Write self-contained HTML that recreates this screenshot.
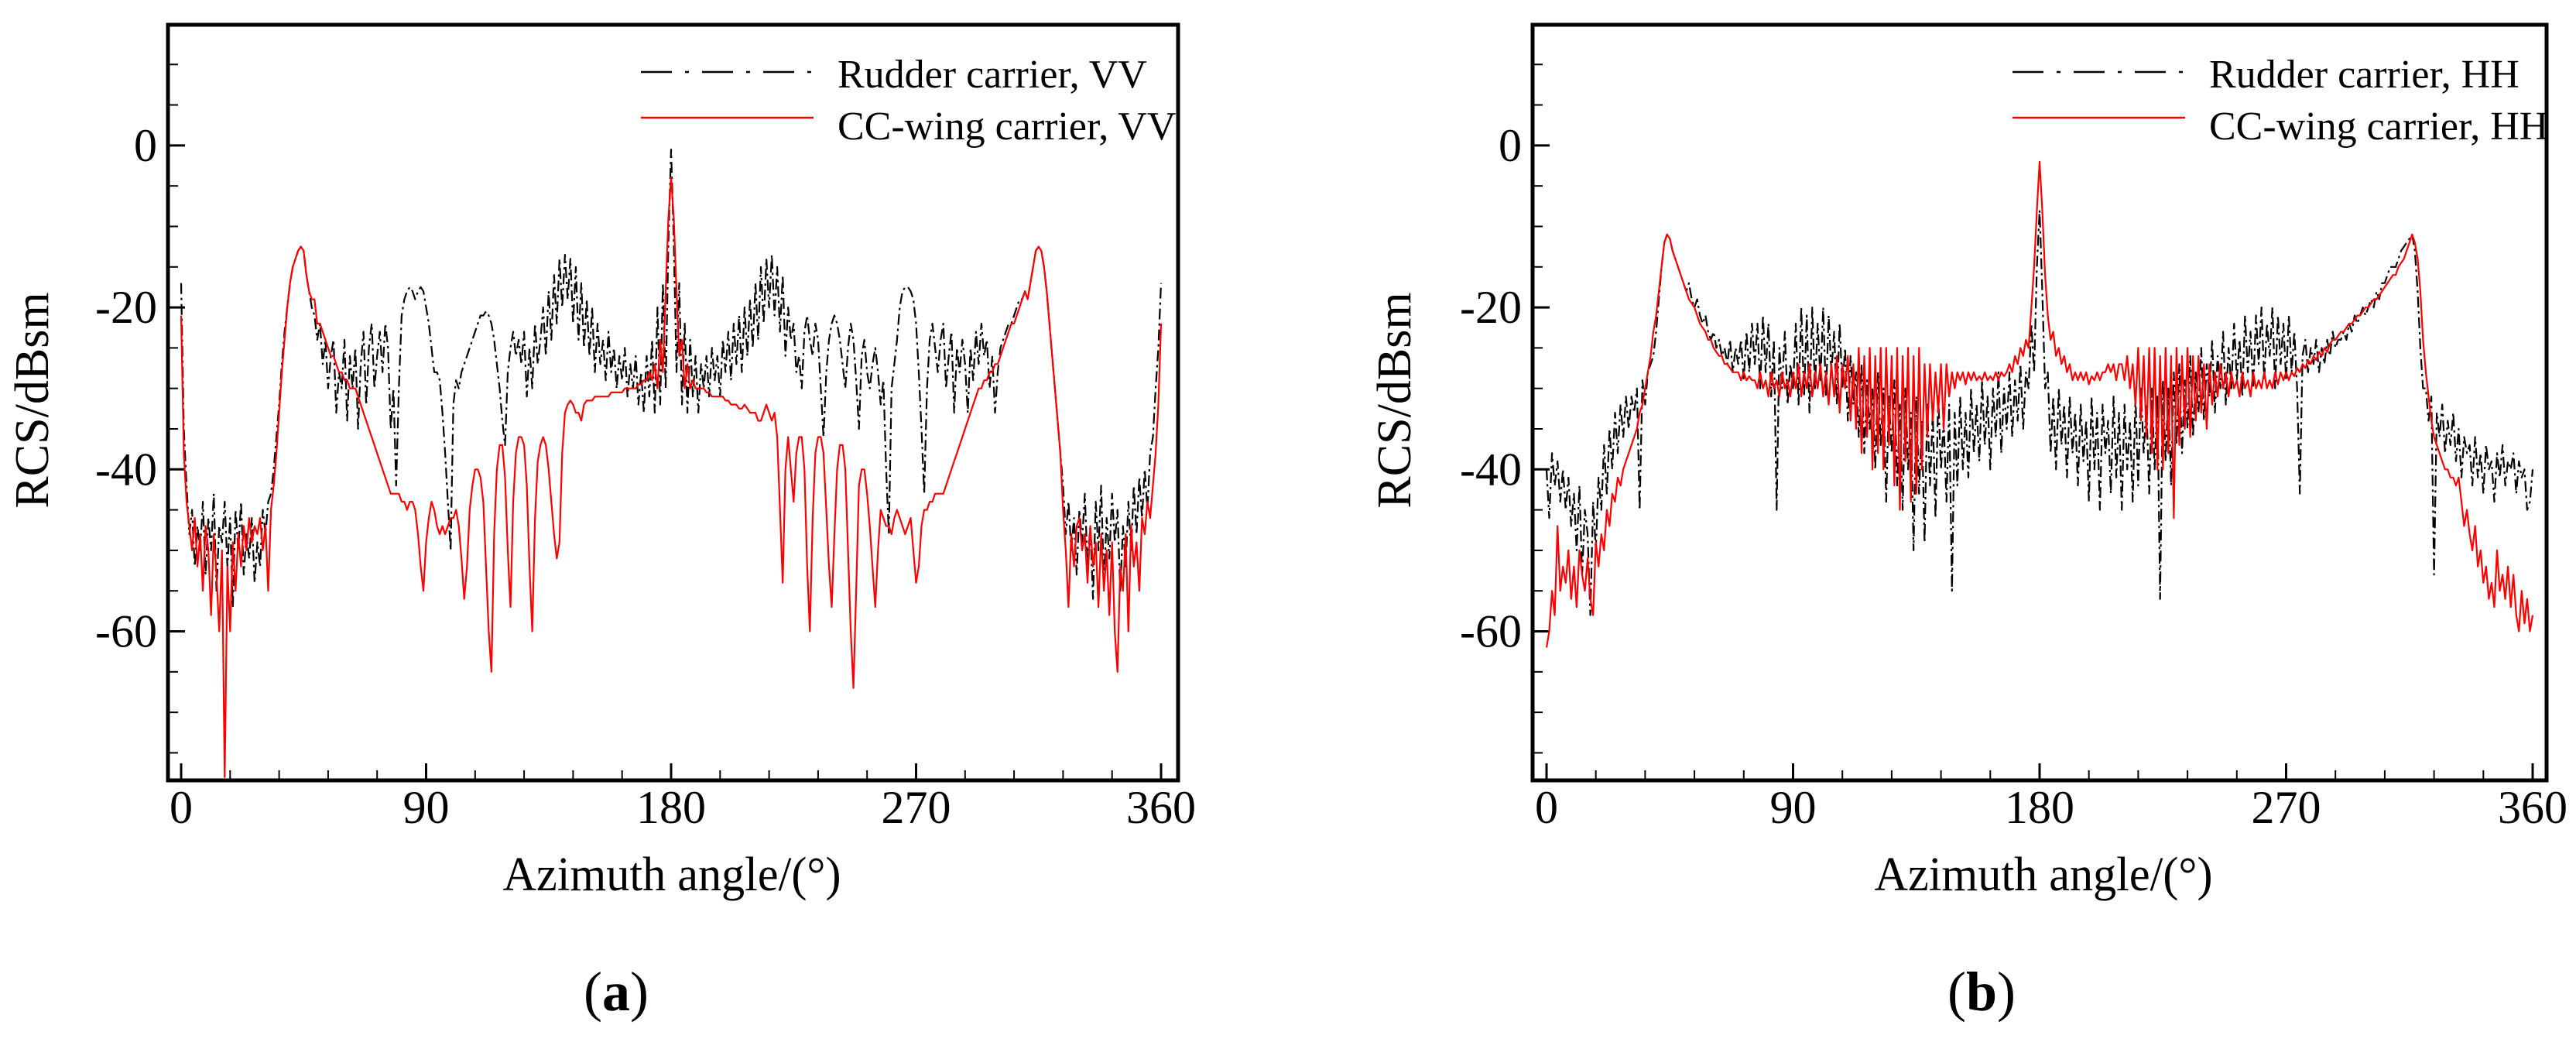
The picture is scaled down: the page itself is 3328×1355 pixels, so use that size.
<!DOCTYPE html>
<html><head><meta charset="utf-8"><style>
html,body{margin:0;padding:0;background:#fff;}
svg{display:block;}
svg text{font-family:"Liberation Serif","Times New Roman",Times,serif;fill:#000;}
</style></head><body>
<svg id="fig" width="3328" height="1355" viewBox="0 0 3328 1355" xmlns="http://www.w3.org/2000/svg" font-family="'Liberation Serif', 'Times New Roman', serif">
</svg>
<script>
const angles = Array.from({length:361},(_,i)=>i);
const xTicks = [0,90,180,270,360];
const yTicks = [0,-20,-40,-60];
const legendA = ["Rudder carrier, VV","CC-wing carrier, VV"];
const legendB = ["Rudder carrier, HH","CC-wing carrier, HH"];

const redA = [-21,-38,-44,-47,-50,-46,-52,-48,-55,-47,
-50,-58,-48,-53,-60,-50,-78,-52,-60,-49,
-55,-48,-52,-47,-50,-46,-49,-47,-48,-46,
-50,-47,-55,-45,-42,-38,-33,-28,-24,-20,
-17,-15,-14,-13,-12.5,-13,-16,-18,-19,-19,
-22,-22,-23,-24,-25,-26,-26,-27,-28,-28,
-29,-29,-30,-30,-30,-31,-32,-33,-34,-35,
-36,-37,-38,-39,-40,-41,-42,-43,-43,-43,
-43,-44,-44,-45,-44,-44,-45,-48,-52,-55,
-49,-46,-44,-45,-47,-48,-47,-48,-47,-46,
-46,-45,-47,-51,-56,-52,-45,-42,-40,-40,
-41,-44,-52,-60,-65,-48,-40,-37,-37,-41,
-50,-57,-44,-38,-36,-36,-37,-42,-52,-60,
-46,-39,-37,-36,-37,-40,-44,-48,-51,-49,
-38,-33,-32,-31.5,-32,-33,-33,-34,-32,-31.5,
-31.5,-31.5,-31,-31,-31,-31,-31,-31,-30.5,-30.5,
-30.5,-30.5,-30.5,-30,-30,-30,-30,-30,-29.5,-29.5,
-29,-29,-28,-29,-27,-30,-24,-28,-18,-9,
-4,
-9,-18,-26,-24,-30,-27,-30,-29,-30,
-30,-30,-30,-30.5,-30.5,-31,-31,-31,-31,-31,
-31.5,-31.5,-32,-32,-32,-32.5,-32.5,-32,-32.5,-33,
-33,-33,-34,-34,-33,-32,-33,-34,-33,-36,
-45,-54,-40,-36,-40,-44,-38,-36,-36,-40,
-52,-60,-46,-38,-36,-36,-38,-45,-52,-57,
-48,-40,-37,-37,-40,-50,-60,-67,-55,-42,
-40,-40,-43,-47,-52,-57,-50,-45,-46,-47,
-47,-48,-46,-45,-46,-47,-48,-47,-46,-50,
-54,-52,-47,-45,-45,-44,-44,-43,-43,-43,
-43,-42,-41,-40,-39,-38,-37,-36,-35,-34,
-33,-32,-31,-30,-30,-29,-29,-28,-28,-27,
-27,-26,-25,-24,-23,-22,-22,-21,-20,-19,
-18,-19,-17,-15,-13,-12.5,-13,-15,-18,-22,
-26,-30,-34,-38,-45,-50,-57,-48,-52,-47,
-46,-50,-48,-54,-47,-52,-49,-57,-48,-55,
-50,-58,-49,-60,-65,-52,-55,-48,-60,-47,
-52,-49,-55,-46,-48,-44,-46,-42,-38,-32,
-22];

const blackA = [-17,-35,-42,-48,-45,-52,-47,-50,-44,-53,
-46,-50,-43,-55,-47,-49,-44,-52,-46,-57,
-45,-50,-44,-53,-48,-51,-46,-54,-49,-52,
-45,-48,-44,-43,-40,-36,-32,-27,-23,-20,
-17,-15,-14,-13,-12.5,-13,-16,-18,-20,-21,
-24,-22,-27,-24,-30,-26,-24,-33,-28,-30,
-24,-34,-26,-30,-25,-35,-27,-23,-32,-25,
-22,-30,-26,-23,-28,-22,-25,-35,-30,-42,
-30,-21,-19,-18,-17.5,-18,-19,-18,-17.5,-18,
-20,-22,-25,-28,-28,-29,-33,-38,-44,-50,
-32,-29,-30,-28,-27,-26,-25,-24,-23,-22,
-21,-21,-20.5,-21,-22,-24,-27,-30,-34,-37,
-28,-25,-23,-26,-24,-27,-23,-31,-25,-30,
-22,-27,-24,-20,-26,-18,-24,-16,-22,-14,
-20,-13.5,-19,-14,-22,-15,-24,-17,-25,-19,
-26,-20,-28,-22,-27,-24,-29,-23,-28,-25,
-30,-26,-29,-25,-31,-27,-30,-26,-32,-28,
-33,-26,-31,-24,-33,-20,-32,-17,-30,-12,
-0.5,
-12,-28,-17,-32,-22,-33,-24,-31,-26,
-33,-27,-30,-26,-31,-25,-29,-26,-31,-24,
-28,-23,-29,-22,-27,-21,-28,-20,-26,-19,
-25,-17,-24,-15,-22,-14,-20,-13.5,-21,-15,
-23,-16,-26,-20,-24,-22,-28,-26,-30,-23,
-21,-24,-26,-22,-24,-30,-36,-28,-24,-22,
-21,-22,-24,-27,-30,-25,-22,-24,-29,-35,
-26,-24,-28,-30,-27,-25,-28,-32,-29,-40,
-48,-30,-27,-24,-20,-18,-17.5,-17.5,-18,-19,
-22,-28,-35,-43,-30,-24,-22,-25,-28,-24,
-22,-30,-26,-23,-33,-25,-28,-24,-27,-33,
-25,-29,-23,-27,-22,-26,-24,-30,-26,-33,
-28,-25,-24,-23,-22,-22,-21,-20,-19,-19,
-18,-19,-17,-15,-13,-12.5,-13,-15,-18,-22,
-26,-30,-34,-38,-42,-48,-44,-50,-46,-53,
-45,-49,-43,-52,-47,-56,-44,-50,-42,-54,
-46,-51,-43,-49,-45,-55,-47,-52,-44,-50,
-42,-48,-41,-46,-40,-45,-38,-36,-30,-25,
-17];

const redB = [-62,-60,-55,-58,-47,-55,-52,-54,-50,-56,
-52,-57,-50,-53,-55,-51,-56,-58,-49,-52,
-48,-50,-45,-47,-43,-44,-41,-42,-40,-39,
-38,-37,-36,-35,-33,-32,-30,-28,-26,-23,
-21,-18,-15,-12,-11,-11.5,-13,-14,-15,-16,
-17,-18,-19,-19.5,-20,-21,-22,-22.5,-23,-24,
-24,-25,-25.5,-26,-26,-27,-27,-27.5,-28,-28,
-28,-29,-28,-29,-28.5,-29,-29,-30,-28,-30,
-29,-31,-28,-30,-29,-31,-28,-30,-29,-31,
-28,-30,-27,-31,-28,-30,-27,-31,-28,-30,
-27,-31,-28,-32,-27,-31,-26,-33,-27,-30,
-26,-34,-27,-35,-25,-38,-26,-36,-25,-40,
-26,-38,-25,-40,-25,-37,-26,-42,-25,-45,
-26,-39,-25,-44,-26,-43,-25,-40,-27,-36,
-27,-34,-28,-33,-27,-35,-27,-31,-28,-30,
-28,-29,-28,-29.5,-28,-29,-28,-29,-28.5,-29,
-28,-29,-28.5,-29,-28,-29,-28,-28.5,-28,-27,
-28,-26,-27,-25,-26,-24,-25,-20,-15,-8,
-2,
-8,-16,-21,-24,-23,-26,-25,-27,-26,
-28,-27,-29,-28,-29,-28,-29,-28,-29.5,-28.5,
-29,-28,-29,-28,-28,-27,-28,-27,-29,-27,
-27,-29,-26,-30,-27,-32,-25,-34,-26,-36,
-25,-38,-25,-40,-26,-40,-25,-38,-26,-46,
-25,-37,-26,-35,-25,-36,-26,-34,-26,-33,
-27,-35,-27,-32,-28,-31,-27,-30,-28,-31,
-28,-30,-29,-31,-28,-30,-29,-31,-28,-30,
-29,-30,-28,-30,-29,-30,-28,-29.5,-28,-29,
-28,-29,-28,-28.5,-27.5,-28,-27,-27.5,-26.5,-27,
-26,-26.5,-25.5,-26,-25,-25.5,-24.5,-24,-24,-23.5,
-23,-23,-22.5,-22,-22,-21.5,-21,-21,-20.5,-20,
-20,-19.5,-19,-19,-18.5,-18,-17.5,-17,-16.5,-16,
-16,-15,-14.5,-14,-13,-12,-11,-12,-14,-18,
-24,-28,-31,-34,-36,-37,-38,-39,-40,-40,
-41,-41,-42,-41,-44,-47,-45,-48,-50,-47,
-52,-50,-54,-52,-56,-54,-57,-50,-55,-53,
-56,-52,-57,-53,-58,-60,-55,-59,-56,-60,
-58];

const blackB = [-40,-46,-38,-42,-39,-44,-40,-45,-41,-47,
-43,-50,-42,-53,-45,-48,-58,-44,-50,-41,
-45,-37,-43,-35,-40,-33,-38,-32,-36,-31,
-35,-31,-33,-30,-45,-29,-32,-28,-27,-26,
-23,-19,-15,-12,-11,-11.5,-13,-14,-15,-16,
-17,-18,-17,-19,-20,-19,-21,-22,-21,-23,
-24,-23,-25,-24,-26,-25,-27,-24,-28,-25,
-27,-24,-29,-23,-28,-22,-27,-22,-30,-21,
-28,-22,-31,-24,-45,-25,-30,-23,-32,-27,
-30,-22,-32,-20,-31,-21,-33,-20,-30,-22,
-29,-20,-31,-21,-28,-23,-32,-22,-30,-25,
-34,-26,-32,-28,-36,-27,-38,-29,-35,-30,
-40,-28,-37,-30,-44,-31,-38,-29,-42,-32,
-45,-30,-40,-33,-50,-31,-43,-34,-49,-32,
-42,-33,-46,-31,-40,-34,-44,-32,-55,-33,
-42,-31,-40,-33,-41,-30,-38,-32,-39,-29,
-37,-31,-40,-30,-36,-28,-38,-30,-35,-28,
-36,-29,-34,-27,-35,-28,-30,-22,-28,-15,
-8,
-18,-30,-28,-38,-31,-40,-30,-37,-32,
-41,-31,-38,-33,-42,-32,-39,-34,-44,-31,
-40,-33,-45,-32,-38,-34,-43,-31,-41,-33,
-45,-32,-40,-34,-44,-31,-42,-30,-38,-32,
-43,-30,-40,-31,-56,-29,-39,-30,-42,-28,
-37,-27,-38,-29,-35,-26,-36,-28,-33,-25,
-34,-27,-31,-24,-33,-26,-30,-23,-32,-25,
-30,-22,-29,-24,-31,-21,-28,-23,-30,-21,
-27,-20,-29,-22,-26,-20,-30,-21,-27,-22,
-29,-21,-28,-23,-30,-43,-26,-24,-28,-25,
-27,-24,-28,-25,-27,-24,-26,-23,-25,-24,
-24,-23,-24,-22,-23,-21,-22,-21,-20,-21,
-20,-19,-20,-18,-19,-17,-17,-16,-15,-15,
-15,-14,-13,-12.5,-12,-11.5,-11,-13,-18,-25,
-30,-30,-34,-31,-53,-33,-36,-32,-38,-34,
-37,-33,-39,-35,-41,-36,-38,-37,-42,-36,
-41,-38,-43,-37,-40,-39,-44,-38,-41,-37,
-42,-39,-40,-38,-43,-39,-41,-40,-45,-44,
-40];

const NS = "http://www.w3.org/2000/svg";
const svg = document.getElementById('fig');
const FONT = "'Liberation Serif', 'Times New Roman', Times, serif";
function mk(tag, attrs, parent){
  const e = document.createElementNS(NS, tag);
  for (const k in attrs) e.setAttribute(k, attrs[k]);
  if (tag === 'text') e.setAttribute('font-family', FONT);
  (parent||svg).appendChild(e);
  return e;
}
const Y_MIN = -78.4, Y_MAX = 14.9;

function drawPanel(cfg){
  const g = mk('g', {});
  
  
  const xs = v => cfg.x0 + (v/360)*(cfg.x360 - cfg.x0);
  const ys = v => 1008 - (v - Y_MIN)/(Y_MAX - Y_MIN)*(1008 - 32);
  const tg = mk('g', {stroke:'#000','stroke-width':2}, g);
  
  
  for (let a=0; a<=360; a+=18){
    const major = a % 90 === 0;
    mk('line', {x1:xs(a), x2:xs(a), y1:1008, y2:1008-(major?22:13), 'stroke-width': major?3:2}, tg);
  }
  for (let v=-75; v<=10; v+=5){
    const major = v % 20 === 0;
    mk('line', {x1:cfg.fl, x2:cfg.fl+(major?22:13), y1:ys(v), y2:ys(v), 'stroke-width': major?3:2}, tg);
  }
  const line = (vals, color, dash, nm) => {
    const d = angles.map((a,i)=>(i?'L':'M')+xs(a).toFixed(1)+' '+ys(vals[i]).toFixed(1)).join(' ');
    const p = mk('path', {d:d, fill:'none', stroke:color, 'stroke-width':2.2, 'stroke-linejoin':'round'}, g);
    if (dash) p.setAttribute('stroke-dasharray', dash);
    
    
  };
  line(cfg.black, '#000', '14 5 3 5', 'rudder-carrier-line');
  line(cfg.red, '#ff0000', null, 'cc-wing-carrier-line');
  const fr = mk('rect', {x:cfg.fl, y:32, width:cfg.fr-cfg.fl, height:1008-32, fill:'none', stroke:'#000', 'stroke-width':5}, g);
  
  
  xTicks.forEach(t=>{
    const tx = mk('text', {x:xs(t), y:1063, 'font-size':60, 'text-anchor':'middle'}, g);
    tx.textContent = t;
    
    
  });
  yTicks.forEach(t=>{
    const tx = mk('text', {x:cfg.fl-14, y:ys(t)+20, 'font-size':60, 'text-anchor':'end'}, g);
    tx.textContent = t;
    
    
  });
  const xt = mk('text', {x:cfg.xtc, y:1150, 'font-size':62, 'text-anchor':'middle', textLength:437, lengthAdjust:'spacingAndGlyphs'}, g);
  xt.textContent = 'Azimuth angle/(°)';
  
  
  const yt = mk('text', {x:0, y:0, 'font-size':62, 'text-anchor':'middle', transform:`translate(${cfg.ytx},517) rotate(-90)`}, g);
  yt.textContent = 'RCS/dBsm';
  
  
  const lg = mk('g', {}, g);
  
  
  mk('line', {x1:cfg.lx, x2:cfg.lx+223, y1:93, y2:93, stroke:'#000', 'stroke-width':2.5, 'stroke-dasharray':'40 17 5 17'}, lg);
  mk('line', {x1:cfg.lx, x2:cfg.lx+223, y1:152, y2:152, stroke:'#ff0000', 'stroke-width':2.5}, lg);
  cfg.legend.forEach((s,i)=>{
    const t = mk('text', {x:cfg.lx+254, y:i?180:113, 'font-size':52}, lg);
    t.textContent = s;
    
    
  });
  const pl = mk('text', {x:cfg.plx, y:1305, 'font-size':72, 'text-anchor':'middle'}, g);
  
  
  const t1 = mk('tspan', {}, pl); t1.textContent = '(';
  const t2 = mk('tspan', {'font-weight':'bold'}, pl); t2.textContent = cfg.letter;
  const t3 = mk('tspan', {}, pl); t3.textContent = ')';
}

drawPanel({name:'panel-a-vv', x0:234, x360:1500, fl:217, fr:1522, red:redA, black:blackA, legend:legendA, lx:828, xtc:868, ytx:62, plx:796, letter:'a'});
drawPanel({name:'panel-b-hh', x0:1998, x360:3272, fl:1980, fr:3290, red:redB, black:blackB, legend:legendB, lx:2600, xtc:2640, ytx:1822, plx:2560, letter:'b'});
</script>
</body></html>
